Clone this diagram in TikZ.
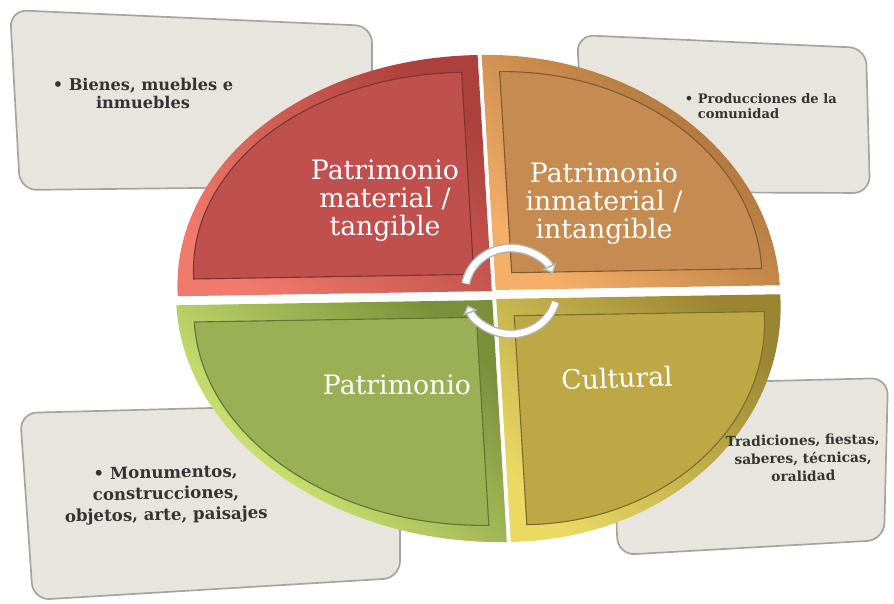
\documentclass[tikz,border=0pt]{standalone}
\usepackage{fontspec}
\setmainfont{DejaVu Serif}
\usetikzlibrary{arrows.meta}
\definecolor{boxfill}{RGB}{231,229,221}
\definecolor{boxline}{RGB}{165,165,160}
\definecolor{redmain}{RGB}{192,80,77}
\definecolor{redlight}{RGB}{240,122,108}
\definecolor{reddark}{RGB}{172,64,60}
\definecolor{ormain}{RGB}{198,139,80}
\definecolor{orlight}{RGB}{244,174,104}
\definecolor{ordark}{RGB}{162,108,52}
\definecolor{grmain}{RGB}{155,176,84}
\definecolor{grlight}{RGB}{220,244,124}
\definecolor{grdark}{RGB}{124,144,60}
\definecolor{olmain}{RGB}{190,168,70}
\definecolor{ollight}{RGB}{234,218,100}
\definecolor{oldark}{RGB}{154,134,50}

\begin{document}
\begin{tikzpicture}[x=0.025cm, y=-0.025cm,
    card/.style={fill=boxfill, draw=boxline, line width=1.2pt, rounded corners=12pt},
    cardtext/.style={font=\bfseries\fontsize{11.5}{12.8}\selectfont, text=black!80, align=center},
    slicetext/.style={font=\fontsize{19}{20}\selectfont, text=white, align=center},
    cyclearrow/.style={draw=gray!60, double=white, double distance=4.5pt, line width=1pt,
      -{Triangle[length=6pt, width=11pt, fill=white]}}]
  \useasboundingbox (0,0) rectangle (894,604);

  % cards behind the pie
  \draw[card] (10,10) -- (372,26) -- (372,186) -- (20,190) -- cycle;
  \draw[card] (577,35) -- (866,48) -- (870,193) -- (585,192) -- cycle;
  \draw[card] (20,413) -- (400,403) -- (400,578) -- (33,600) -- cycle;
  \draw[card] (610,385) -- (888,378) -- (884,540) -- (618,555) -- cycle;

  % pie, four slices with a bevelled rim lit from the lower left
  \begin{scope}[shift={(494,295)}, cm={1,0.0166,-0.06,1,(0,0)}]
    \foreach \ox/\oy/\sx/\sy/\rx/\ry/\a/\lt/\dk/\main in {
        -2/-4/-1/-1/314/236/180/redlight/reddark/redmain,
        2/-5/1/-1/284/235/270/orlight/ordark/ormain,
        2/4/1/1/284/243/0/ollight/oldark/olmain,
        -2/5/-1/1/316/242/90/grlight/grdark/grmain}{
      \path[shading=axis, top color=\dk, bottom color=\lt, shading angle=-45]
        (\ox,\oy) -- ({\ox+\rx*cos(\a)},{\oy+\ry*sin(\a)})
        arc[start angle=\a, delta angle=90, x radius=\rx, y radius=\ry] -- cycle;
      \filldraw[fill=\main, draw=\main!65!black, line width=0.8pt]
        ({\ox+\sx*17},{\oy+\sy*17}) -- ({\ox+\sx*17+(\rx-34)*cos(\a)},{\oy+\sy*17+(\ry-34)*sin(\a)})
        arc[start angle=\a, delta angle=90, x radius=\rx-34, y radius=\ry-34] -- cycle;
    }
  \end{scope}

  % slice labels
  \node[slicetext] (mat) at (385,201) {Patrimonio\\material /\\tangible};
  \node[slicetext] (inm) at (604,204) {Patrimonio\\inmaterial /\\intangible};
  \node[slicetext] (pat) at (397,385) {Patrimonio};
  \node[slicetext, rotate=2] (cul) at (617,378) {Cultural};

  % card labels
  \node[cardtext] (bienes) at (143,93) {• Bienes, muebles e\\inmuebles};
  \node[cardtext, font=\bfseries\fontsize{11.8}{15}\selectfont, rotate=1]
    (monu) at (166,495) {• Monumentos,\\construcciones,\\objetos, arte, paisajes};
  \node[cardtext, font=\bfseries\fontsize{9.3}{11}\selectfont, align=left, anchor=west]
    (prod) at (680,106) {• Producciones de la\\\hphantom{• }comunidad};
  \node[cardtext, font=\bfseries\fontsize{9.8}{12.8}\selectfont, rotate=1]
    (trad) at (803,458) {Tradiciones, fiestas,\\saberes, técnicas,\\oralidad};

  % cycle arrows in the middle
  \coordinate (cyc) at (511,291);
  \draw[cyclearrow] ([shift={(190:46 and 43)}]cyc) arc[start angle=190, end angle=336, x radius=46, y radius=43];
  \draw[cyclearrow] ([shift={(15:46 and 43)}]cyc) arc[start angle=15, end angle=161, x radius=46, y radius=43];
\end{tikzpicture}
\end{document}
